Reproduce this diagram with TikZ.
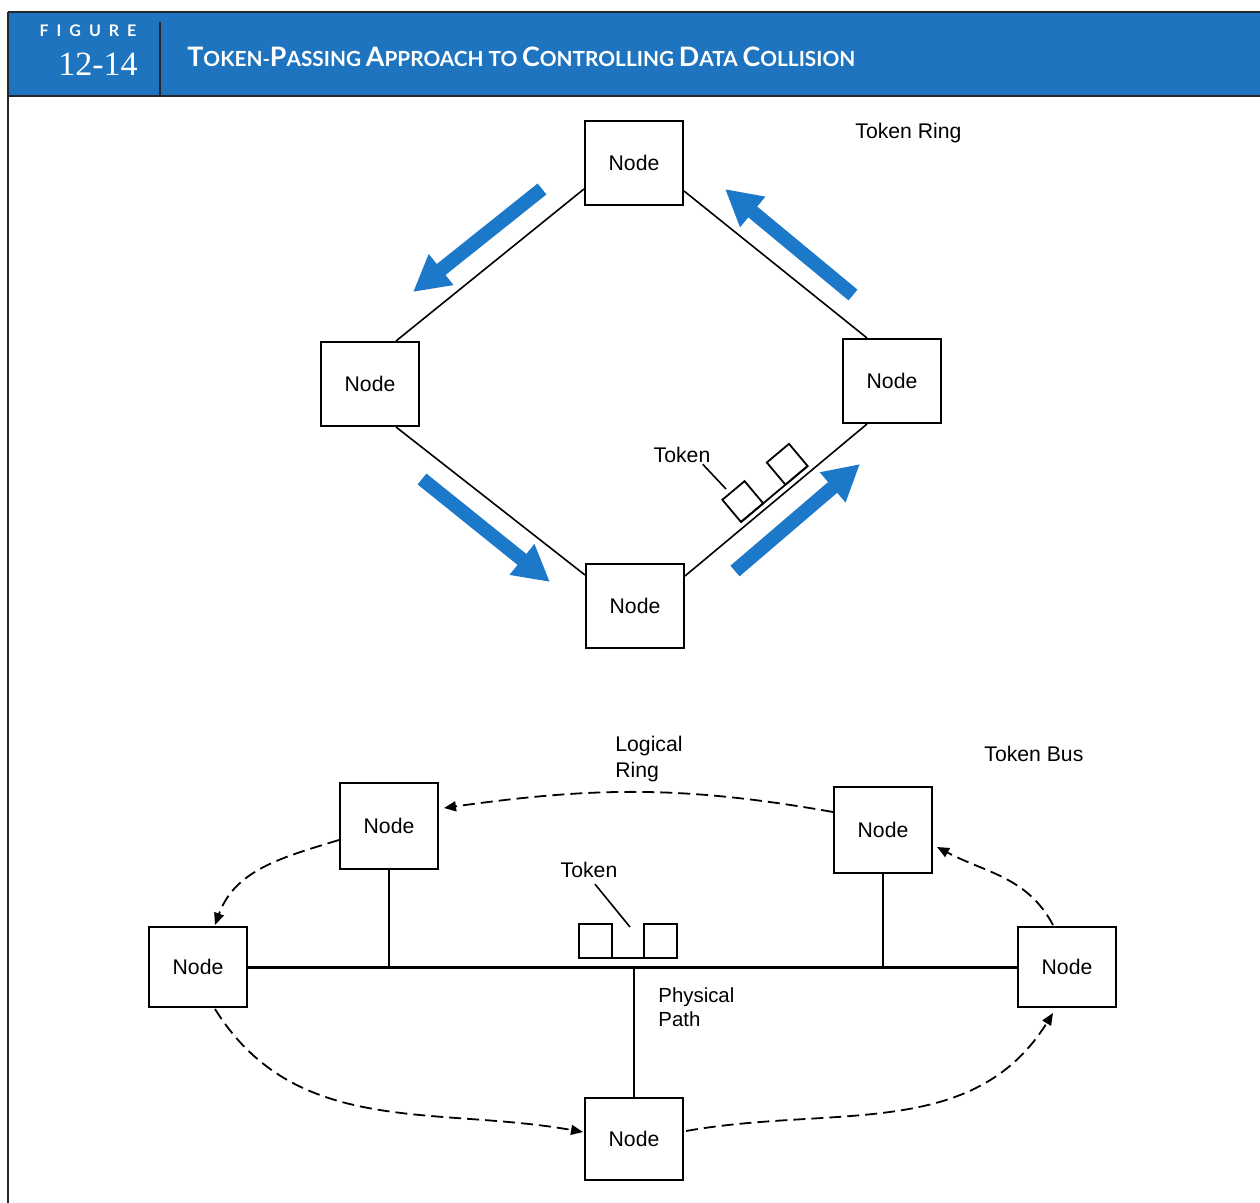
\documentclass[tikz,border=0pt]{standalone}
\usepackage{fontspec}
\setmainfont{Liberation Sans}
\newfontfamily\headfont{Lato}
\newfontfamily\numfont{Liberation Serif}
\usetikzlibrary{arrows.meta,calc}

\definecolor{bandblue}{RGB}{30,116,190}
\definecolor{flowblue}{RGB}{28,120,200}
\definecolor{edgedark}{RGB}{35,40,45}

% small-capital word: large initial, reduced capitals for the rest
\newcommand\capword[2]{{\fontsize{13.4}{15}\selectfont #1}{\fontsize{10.4}{12}\selectfont\MakeUppercase{#2}}}
\newcommand\smallcap[1]{{\fontsize{10.4}{12}\selectfont\MakeUppercase{#1}}}

\begin{document}
\begin{tikzpicture}[x=0.5pt,y=-0.5pt,
  stationbox/.style={draw, line width=1pt, minimum width=49pt, minimum height=42pt,
    inner sep=0pt, font=\fontsize{10.6}{12}\selectfont},
  lbl/.style={font=\fontsize{10.6}{12}\selectfont, inner sep=0pt},
  ringlink/.style={line width=0.8pt},
  flow/.style={flowblue, line width=7pt, -{Triangle[length=18pt,width=18.5pt]}},
  buslink/.style={line width=1.5pt},
  stem/.style={line width=1pt},
  logical/.style={line width=0.9pt, dash pattern=on 6pt off 3pt,
    -{Triangle[length=6pt,width=5pt]}},
  tokenpart/.style={line width=0.9pt}]

\useasboundingbox (0,0) rectangle (1260,1203);
\fill[white] (0,0) rectangle (1260,1203);

% ---------- header ----------
\fill[bandblue] (8,12) rectangle (1260,96);
\draw[edgedark, line width=1pt] (8,12) -- (1260,12);
\draw[edgedark, line width=1pt] (8,96) -- (1260,96);
\draw[edgedark, line width=1pt] (8,12) -- (8,1203);
\draw[edgedark, line width=1pt] (160,22) -- (160,96);
\node[white, inner sep=0pt, font=\headfont\bfseries\fontsize{8}{9}\selectfont\addfontfeatures{LetterSpace=50}] (figword) at (88,31) {FIGURE};
\node[white, inner sep=0pt, font=\numfont\fontsize{17}{18}\selectfont] (fignum) at (98,64) {12-14};
\node[white, inner sep=0pt, anchor=west, font=\headfont\bfseries] (figtitle) at (187,57)
  {\capword{T}{oken}-\capword{P}{assing} \capword{A}{pproach} \smallcap{to} \capword{C}{ontrolling} \capword{D}{ata} \capword{C}{ollision}};

% ---------- token ring ----------
\node[stationbox] (rtop)    at (634,163) {Node};
\node[stationbox] (rleft)   at (370,384) {Node};
\node[stationbox] (rright)  at (892,381) {Node};
\node[stationbox] (rbottom) at (635,606) {Node};

\node[lbl, anchor=west] (ringname) at (855,133) {Token Ring};

\draw[ringlink] ($(rtop.south west)+(0,-17)$) -- ($(rleft.north east)+(-24,0)$);
\draw[ringlink] ($(rtop.south east)+(0,-15)$) -- ($(rright.north west)+(25,0)$);
\draw[ringlink] ($(rleft.south east)+(-24,0)$) -- ($(rbottom.north west)+(0,12)$);
\draw[ringlink] ($(rbottom.north east)+(0,13)$) -- ($(rright.south west)+(25,0)$);

% direction of circulation
\draw[flow] (542,189) -- (413,292);
\draw[flow] (853,295) -- (725,189);
\draw[flow] (422,479) -- (550,582);
\draw[flow] (735,571) -- (860,464);

% token riding on the ring
\begin{scope}[shift={(741,522)}, rotate=40]
  \draw[tokenpart] (0,0) rectangle (29,-29);
  \draw[tokenpart] (58,0) rectangle (87,-29);
  \draw[tokenpart] (0,0) -- (87,0);
\end{scope}
\coordinate (ringtok) at (726,489);
\node[lbl] (ringtoklbl) at (682,455) {Token};
\draw[line width=0.8pt] ($(ringtoklbl.south east)+(-8,1)$) -- (ringtok);

% ---------- token bus ----------
\node[stationbox, minimum height=42.5pt] (bA) at (389,826) {Node};
\node[stationbox, minimum height=42.5pt] (bB) at (883,830) {Node};
\node[stationbox, minimum height=40pt]   (bC) at (198,967) {Node};
\node[stationbox, minimum height=40pt]   (bD) at (1067,967) {Node};
\node[stationbox, minimum height=41pt]   (bE) at (634,1139) {Node};

\node[lbl, anchor=west] (busname) at (984,754) {Token Bus};
\node[lbl, anchor=north west, align=left, font=\fontsize{10.6}{13}\selectfont] (logring) at (615,736) {Logical\\Ring};
\node[lbl, anchor=north west, align=left, font=\fontsize{10.2}{12}\selectfont] (physpath) at (658,987) {Physical\\Path};

\draw[buslink] (bC.east) -- (bD.west);
\draw[stem] (bA.south) -- (bA.south |- bC.east);
\draw[stem] (bB.south) -- (bB.south |- bC.east);
\draw[stem] (bE.north) -- (bE.north |- bC.east);

% token sitting on the bus
\draw[tokenpart] (579,958) rectangle (612,924);
\draw[tokenpart] (644,958) rectangle (677,924);
\draw[tokenpart] (579,958) -- (677,958);
\coordinate (bustok) at (630,927);
\node[lbl] (bustoklbl) at (589,870) {Token};
\draw[line width=0.8pt] ($(bustoklbl.south)+(6,6)$) -- (bustok);

% logical ring around the bus stations
\draw[logical] ($(bB.west)+(0,-18)$) to[out=170,in=8] ($(bA.east)+(5,-18)$);
\draw[logical] ($(bA.west)+(0,14)$) to[out=197,in=70] ($(bC.north)+(17,-1)$);
\draw[logical] ($(bC.south)+(17,1)$) to[out=-58,in=170] ($(bE.west)+(-1,-7)$);
\draw[logical] ($(bE.east)+(2,-8)$) to[out=10,in=238] ($(bD.south)+(-14,5)$);
\draw[logical] ($(bD.north)+(-14,-1)$) to[out=118,in=-28] ($(bB.east)+(4,17)$);

\end{tikzpicture}
\end{document}
